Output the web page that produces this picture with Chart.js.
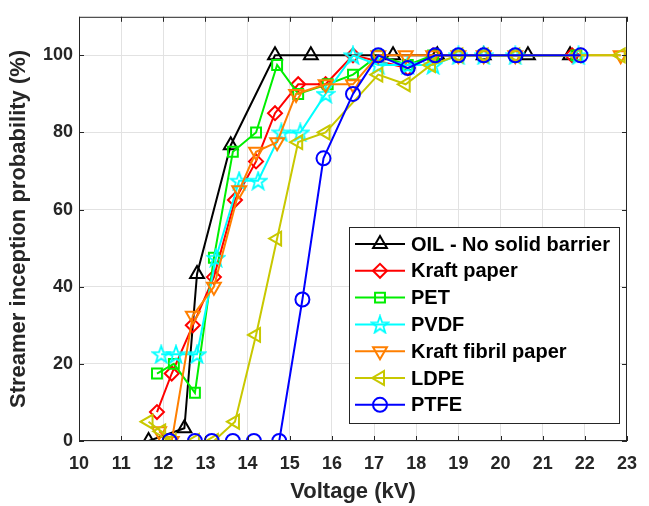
<!DOCTYPE html>
<html>
<head>
<meta charset="utf-8">
<script src="https://cdn.jsdelivr.net/npm/chart.js@4.4.1/dist/chart.umd.min.js"></script>
<style>
  html, body { margin: 0; padding: 0; background: #fff; }
  #wrap { width: 649px; height: 506px; }
</style>
</head>
<body>
<div id="wrap"><canvas id="chart" width="649" height="506"></canvas></div>
<script>
// Streamer inception probability vs voltage, one pair of arrays per barrier
const oilV    = [11.65, 12.5, 12.8, 13.6, 14.65, 15.5, 17.45, 18.5, 19.6, 20.65, 21.65];
const oilP    = [0, 3.3, 43.3, 76.7, 100, 100, 100, 100, 100, 100, 100];
const kraftV  = [11.85, 12.2, 12.7, 13.2, 13.7, 14.2, 14.65, 15.2, 15.85, 16.5, 17.8, 18.4, 19.0, 19.6, 20.35, 21.7];
const kraftP  = [7.5, 17.5, 30, 42.5, 62.5, 72.5, 85, 92.5, 92.5, 100, 96.7, 100, 100, 100, 100, 100];
const petV    = [11.85, 12.25, 12.75, 13.2, 13.65, 14.2, 14.7, 15.2, 15.9, 16.5, 17.1, 17.8, 18.4, 19.0, 19.6, 20.35, 21.8];
const petP    = [17.5, 20, 12.5, 47.5, 75, 80, 97.5, 90, 92.5, 95, 100, 97.5, 100, 100, 100, 100, 100];
const pvdfV   = [11.95, 12.3, 12.8, 13.25, 13.8, 14.25, 14.8, 15.25, 15.85, 16.5, 17.1, 17.8, 18.4, 19.0, 19.6, 20.35, 21.85];
const pvdfP   = [22.5, 22.5, 22.5, 47.5, 67.5, 67.5, 80, 80, 90, 100, 97.5, 97.5, 97.5, 100, 100, 100, 100];
const fibrilV = [11.9, 12.2, 12.7, 13.2, 13.8, 14.2, 14.7, 15.15, 15.85, 16.5, 17.1, 17.75, 18.4, 19.0, 19.6, 20.35, 22.85];
const fibrilP = [2.5, 0, 32.5, 40, 65, 75, 77.5, 90, 92.5, 92.5, 100, 100, 100, 100, 100, 100, 100];
const ldpeV   = [11.65, 11.95, 12.2, 12.75, 13.2, 13.7, 14.2, 14.7, 15.2, 15.85, 17.1, 17.75, 18.35, 19.0, 19.6, 20.35, 21.8, 22.85];
const ldpeP   = [5, 2.5, 0, 0, 0, 5, 27.5, 52.5, 77.5, 80, 95, 92.5, 97.5, 100, 100, 100, 100, 100];
const ptfeV   = [12.15, 12.75, 13.15, 13.65, 14.15, 14.75, 15.3, 15.8, 16.5, 17.1, 17.8, 18.45, 19.0, 19.6, 20.35, 21.9];
const ptfeP   = [0, 0, 0, 0, 0, 0, 36.7, 73.3, 90, 100, 96.7, 100, 100, 100, 100, 100];

const seriesNames = ['OIL - No solid barrier', 'Kraft paper', 'PET', 'PVDF', 'Kraft fibril paper', 'LDPE', 'PTFE'];
const yTicks = [0, 20, 40, 60, 80, 100];

const INK = '#262626';
const FONT = '"Liberation Sans", Arial, sans-serif';

// 5-point star marker (MATLAB pentagram) as a small canvas
function makeStar(color){
  const c = document.createElement('canvas');
  c.width = 20; c.height = 20;
  const g = c.getContext('2d');
  g.strokeStyle = color; g.lineWidth = 1.8; g.lineJoin = 'miter';
  g.beginPath();
  for(let i=0;i<10;i++){
    const r = i%2 ? 3.6 : 9;
    const a = -Math.PI/2 + i*Math.PI/5;
    const px = 10 + r*Math.cos(a), py = 10.8 + r*Math.sin(a);
    if(i===0) g.moveTo(px,py); else g.lineTo(px,py);
  }
  g.closePath(); g.stroke();
  return c;
}
const starImg = makeStar('#00ffff');

const pts = (xs, ys) => xs.map((x,i)=>({x:x, y:ys[i]}));

const styles = [
  { color:'#000000', style:'triangle', radius:8,   rot:0 },
  { color:'#ff0000', style:'rectRot',  radius:7,   rot:0 },
  { color:'#00ee00', style:'rect',     radius:7,   rot:0 },
  { color:'#00ffff', style:starImg,    radius:8,   rot:0 },
  { color:'#ff7f00', style:'triangle', radius:8,   rot:180 },
  { color:'#c8c800', style:'triangle', radius:8,   rot:270 },
  { color:'#0000ff', style:'circle',   radius:7,   rot:0 }
];
const dataPairs = [[oilV,oilP],[kraftV,kraftP],[petV,petP],[pvdfV,pvdfP],[fibrilV,fibrilP],[ldpeV,ldpeP],[ptfeV,ptfeP]];

const datasets = dataPairs.map((p,i)=>({
  label: seriesNames[i],
  data: pts(p[0], p[1]),
  borderColor: styles[i].color,
  borderWidth: 2,
  pointStyle: styles[i].style,
  pointRadius: styles[i].radius,
  pointRotation: styles[i].rot,
  pointBorderColor: styles[i].color,
  pointBackgroundColor: 'rgba(0,0,0,0)',
  pointBorderWidth: 2,
  tension: 0,
  order: 7 - i   // later series drawn on top, like the original plot order
}));

// axes box with inward ticks on all four sides
const framePlugin = {
  id: 'frame',
  afterDraw(chart){
    const {ctx, chartArea:a, scales} = chart;
    ctx.save();
    ctx.strokeStyle = INK; ctx.lineWidth = 1;
    ctx.strokeRect(a.left+0.5, a.top+0.5, a.right-a.left-1, a.bottom-a.top-1);
    ctx.beginPath();
    for(let v=10; v<=23; v++){
      const px = Math.round(scales.x.getPixelForValue(v))+0.5;
      ctx.moveTo(px, a.bottom); ctx.lineTo(px, a.bottom-5);
      ctx.moveTo(px, a.top); ctx.lineTo(px, a.top+5);
    }
    yTicks.forEach(v=>{
      const py = Math.round(scales.y.getPixelForValue(v))+0.5;
      ctx.moveTo(a.left, py); ctx.lineTo(a.left+5, py);
      ctx.moveTo(a.right, py); ctx.lineTo(a.right-5, py);
    });
    ctx.stroke();
    ctx.restore();
  }
};

// boxed legend in the lower right, drawn after everything else
const boxLegend = {
  id: 'boxLegend',
  afterDraw(chart){
    const ctx = chart.ctx;
    const x0 = 349, y0 = 227, w = 270, h = 196, row0 = 244, step = 26.8;
    ctx.save();
    ctx.fillStyle = '#fff';
    ctx.fillRect(x0, y0, w, h);
    ctx.strokeStyle = INK; ctx.lineWidth = 1;
    ctx.strokeRect(x0+0.5, y0+0.5, w, h);
    chart.data.datasets.forEach((ds,i)=>{
      const y = row0 + i*step;
      ctx.strokeStyle = ds.borderColor; ctx.lineWidth = 2;
      ctx.beginPath(); ctx.moveTo(355, y); ctx.lineTo(405, y); ctx.stroke();
      ctx.fillStyle = 'rgba(0,0,0,0)';
      Chart.helpers.drawPoint(ctx, {
        pointStyle: ds.pointStyle, rotation: ds.pointRotation,
        radius: ds.pointRadius, borderWidth: 2
      }, 380, y);
      ctx.fillStyle = '#000';
      ctx.font = 'bold 20px ' + FONT;
      ctx.textBaseline = 'middle'; ctx.textAlign = 'left';
      ctx.fillText(ds.label, 411, y+1);
    });
    ctx.restore();
  }
};

new Chart(document.getElementById('chart'), {
  type: 'line',
  data: { datasets: datasets },
  options: {
    responsive: false,
    animation: false,
    layout: { padding: { top: 6, right: 13, left: 0, bottom: 0 } },
    plugins: { legend: { display: false }, tooltip: { enabled: false } },
    scales: {
      x: {
        type: 'linear', min: 10, max: 23,
        afterFit: s => { s.height = 65; },
        ticks: { stepSize: 1, padding: 12, color: INK, font: { family: FONT, size: 18, weight: 'bold' } },
        grid: { color: '#e2e2e2', drawTicks: false },
        border: { display: false },
        title: { display: true, text: 'Voltage (kV)', color: INK, padding: { top: 0, bottom: 1 },
                 font: { family: FONT, size: 22, weight: 'bold' } }
      },
      y: {
        type: 'linear', min: 0, max: 110,
        afterFit: s => { s.width = 79; },
        afterBuildTicks: s => { s.ticks = yTicks.map(v=>({value:v})); },
        ticks: { padding: 6, color: INK, font: { family: FONT, size: 18, weight: 'bold' } },
        grid: { color: '#e2e2e2', drawTicks: false },
        border: { display: false },
        title: { display: true, text: 'Streamer inception probability (%)', color: INK, padding: { top: 6, bottom: 0 },
                 font: { family: FONT, size: 22, weight: 'bold' } }
      }
    }
  },
  plugins: [framePlugin, boxLegend]
});
</script>
</body>
</html>
